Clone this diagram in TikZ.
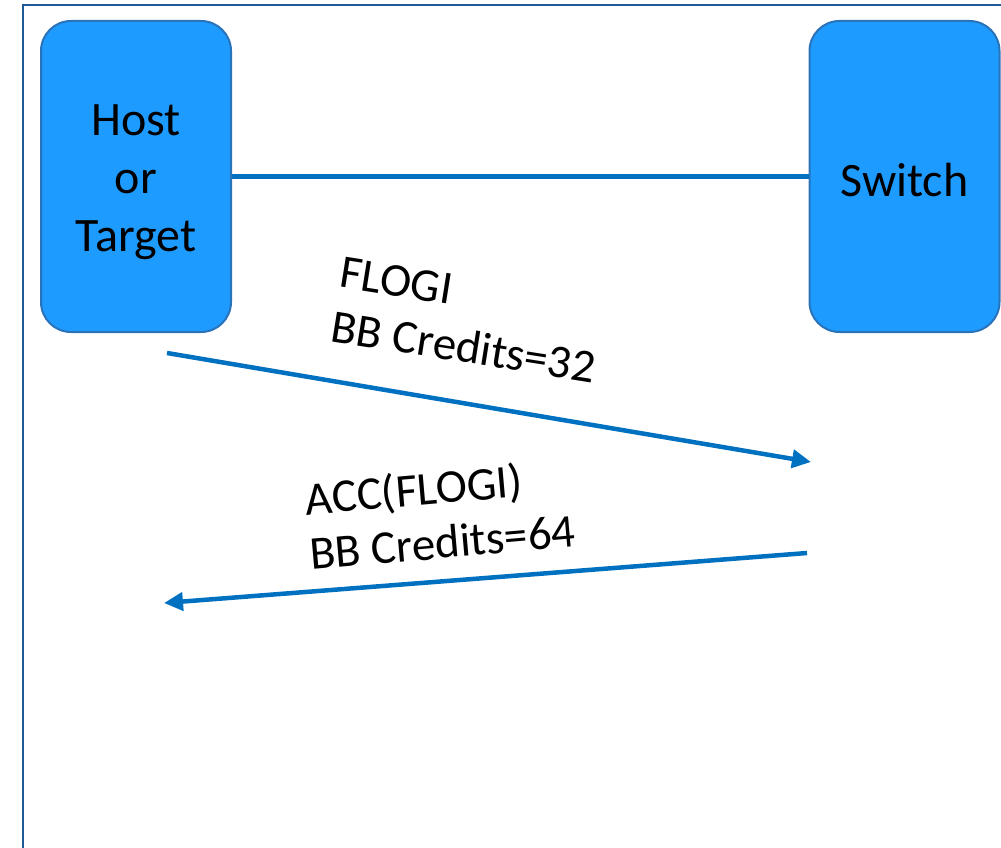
\documentclass[tikz,border=0pt]{standalone}
\usepackage{fontspec}
\setmainfont{Carlito}
\usetikzlibrary{arrows.meta}
\definecolor{boxfill}{RGB}{30,155,255}
\definecolor{boxedge}{RGB}{40,115,185}
\definecolor{linkblue}{RGB}{0,112,192}
\definecolor{framecol}{RGB}{31,90,150}
\tikzset{
  device/.style={draw=boxedge, line width=2pt, fill=boxfill, rounded corners=30pt,
    minimum width=190pt, minimum height=311pt, inner sep=0pt},
  devlabel/.style={align=center, inner sep=0pt, font=\fontsize{48}{58}\selectfont},
  link/.style={draw=linkblue, line width=4.5pt},
  msg/.style={draw=linkblue, line width=4.5pt, -{Triangle[length=19pt,width=18pt]}},
  msglabel/.style={align=left, inner sep=0pt, font=\fontsize{47}{55}\selectfont}
}
\begin{document}
\begin{tikzpicture}[x=1pt,y=-1pt]
\useasboundingbox (0,0) rectangle (1001,848);
\clip (0,0) rectangle (1001,848);
\draw[framecol, line width=2.5pt] (23,5) rectangle (1030,880);
\node[device] (host) at (136,176.5) {};
\node[devlabel] (hostlabel) at (136,182) {Host\\or\\Target};
\node[device] (switch) at (904.5,176.5) {};
\node[devlabel] (switchlabel) at (904.5,180) {Switch};
\draw[link] (host.east) -- (switch.west);
\coordinate (a1s) at (167,353);
\coordinate (a1e) at (811,462);
\coordinate (a2s) at (807,553);
\coordinate (a2e) at (164,603);
\draw[msg] (a1s) -- (a1e);
\draw[msg] (a2s) -- (a2e);
\node[msglabel, rotate=-9] (l1) at (468,320) {FLOGI\\BB Credits=32};
\node[msglabel, rotate=5] (l2) at (440,514) {ACC(FLOGI)\\BB Credits=64};
\end{tikzpicture}
\end{document}
